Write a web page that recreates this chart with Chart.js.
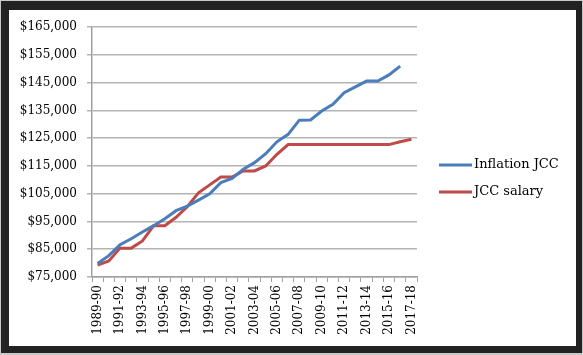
<!DOCTYPE html>
<html>
<head>
<meta charset="utf-8">
<script src="https://cdn.jsdelivr.net/npm/chart.js@4"></script>
<style>
  body { margin: 0; background: #c8c8c8; }
  #frame { position: absolute; left: 1px; top: 1px; width: 581px; height: 352px; background: #222; }
  #box { position: absolute; left: 9px; top: 10px; width: 567px; height: 336px; background: #fff; }
</style>
</head>
<body>
<div id="frame"></div>
<div id="box"><canvas id="myChart" width="567" height="336"></canvas></div>
<script>
"use strict";

// years on the x axis
const years = [
  "1989-90", "1990-91", "1991-92", "1992-93", "1993-94", "1994-95", "1995-96",
  "1996-97", "1997-98", "1998-99", "1999-00", "2000-01", "2001-02", "2002-03",
  "2003-04", "2004-05", "2005-06", "2006-07", "2007-08", "2008-09", "2009-10",
  "2010-11", "2011-12", "2012-13", "2013-14", "2014-15", "2015-16", "2016-17",
  "2017-18"
];

// inflation adjusted salary (no value for last year)
const inflationJCC = [
  79900, 82700, 86600, 88800, 91200, 93500, 96000, 98900, 100500, 102700,
  105000, 109000, 110500, 113800, 116200, 119400, 123700, 126400, 131500, 131600,
  134800, 137200, 141400, 143500, 145600, 145600, 147800, 151000, null
];

// actual salary
const jccSalary = [
  79300, 80800, 85400, 85400, 88000, 93500, 93500, 96500, 100300, 105300,
  108200, 111000, 111000, 113200, 113200, 115000, 119200, 122700, 122700, 122700,
  122700, 122700, 122700, 122700, 122700, 122700, 122700, 123700, 124600
];

// y axis range
const yMin = 75000;
const yMax = 165000;
const yStep = 10000;

const serif = { family: "'DejaVu Serif', serif", size: 12 };

// legend on the right, drawn like the excel one (short line + text)
const sideLegend = {
  id: "sideLegend",
  afterDraw(chart) {
    const ctx = chart.ctx;
    const x = chart.chartArea.right + 22;
    let y = 155;
    ctx.save();
    ctx.font = "13px 'DejaVu Serif', serif";
    ctx.textBaseline = "middle";
    ctx.fillStyle = "#000";
    chart.data.datasets.forEach(ds => {
      ctx.strokeStyle = ds.borderColor;
      ctx.lineWidth = ds.borderWidth;
      ctx.beginPath();
      ctx.moveTo(x, y);
      ctx.lineTo(x + 33, y);
      ctx.stroke();
      ctx.fillText(ds.label, x + 35, y);
      y += 27;
    });
    ctx.restore();
  }
};

const data = {
  labels: years,
  datasets: [{
    label: "Inflation JCC",
    data: inflationJCC,
    borderColor: "#4a7ebb",
    backgroundColor: "#4a7ebb",
    borderWidth: 3,
    pointRadius: 0,
    tension: 0
  }, {
    label: "JCC salary",
    data: jccSalary,
    borderColor: "#be4b48",
    backgroundColor: "#be4b48",
    borderWidth: 3,
    pointRadius: 0,
    tension: 0
  }]
};

const config = {
  type: "line",
  data: data,
  plugins: [sideLegend],
  options: {
    responsive: false,
    animation: false,
    layout: { padding: { top: 16, left: 0, right: 159, bottom: 0 } },
    plugins: {
      tooltip: { enabled: false },
      legend: { display: false }
    },
    scales: {
      x: {
        offset: true,
        grid: { offset: true, drawOnChartArea: false, drawTicks: true, tickLength: 5, color: "#a0a0a0" },
        border: { color: "#a0a0a0", width: 1.5 },
        ticks: {
          autoSkip: false,
          maxRotation: 90,
          minRotation: 90,
          padding: 3,
          color: "#000",
          font: serif,
          callback: function (value, index) {
            return index % 2 === 0 ? years[index] : "";
          }
        },
        afterFit: function (scale) { scale.height = 69; }
      },
      y: {
        min: yMin,
        max: yMax,
        grid: { color: "#b4b4b4", lineWidth: 1.5, tickLength: 5 },
        border: { color: "#a0a0a0", width: 1.5 },
        ticks: {
          stepSize: yStep,
          padding: 10,
          color: "#000",
          font: serif,
          callback: function (value) {
            return "$" + value.toLocaleString("en-US");
          }
        },
        afterFit: function (scale) { scale.width = 83; }
      }
    }
  }
};

const myChart = new Chart(document.getElementById("myChart"), config);
</script>
</body>
</html>
